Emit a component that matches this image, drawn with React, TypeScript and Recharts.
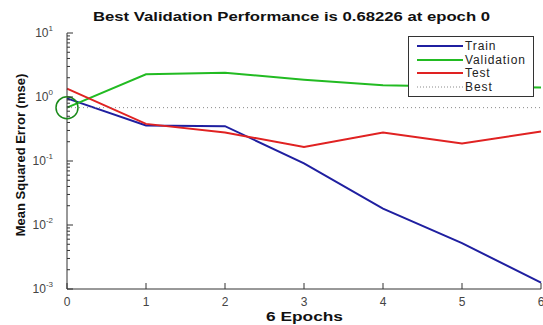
import { Legend, Line, LineChart, ReferenceDot, XAxis, YAxis } from "recharts";

const epochs = [0, 1, 2, 3, 4, 5, 6];
const train = [0.95, 0.36, 0.35, 0.092, 0.018, 0.0052, 0.00126];
const validation = [0.68226, 2.26, 2.4, 1.86, 1.52, 1.45, 1.41];
const test = [1.35, 0.38, 0.278, 0.166, 0.278, 0.187, 0.29];
const bestValue = 0.68226;
const bestEpoch = 0;

const xTicks = [0, 1, 2, 3, 4, 5, 6];
const yDecades = [-3, -2, -1, 0, 1];
const legendOrder = ["train", "validation", "test", "best"];

// major + minor log ticks (1..9 per decade)
const yTicks: number[] = [];
yDecades.forEach((d) => {
  for (let m = 1; m <= 9; m++) {
    if (d === 1 && m > 1) break;
    yTicks.push(Number((m * Math.pow(10, d)).toPrecision(3)));
  }
});

const data = epochs.map((e, i) => ({
  epoch: e,
  train: train[i],
  validation: validation[i],
  test: test[i],
  best: bestValue,
}));

const FONT = "'Liberation Sans', Arial, sans-serif";
const AXIS = "#333";
const TICK_TEXT = "#444";

const COLORS: Record<string, string> = {
  train: "#1f1fa0",
  validation: "#22bb22",
  test: "#e02222",
  best: "#8a8a8a",
};

function YTick(props: any) {
  const { x, y, payload } = props;
  const lg = Math.log10(payload.value);
  const e = Math.round(lg);
  const major = Math.abs(lg - e) < 1e-6;
  return (
    <g>
      <line x1={x} x2={x + (major ? 6 : 3)} y1={y} y2={y} stroke={AXIS} strokeWidth={1} />
      {major && (
        <text x={x - 14} y={y + 4} textAnchor="end" fill={TICK_TEXT} fontSize={12} fontFamily={FONT}>
          10
          <tspan dy={-6} fontSize={8}>
            {e}
          </tspan>
        </text>
      )}
    </g>
  );
}

function XTick(props: any) {
  const { x, y, payload } = props;
  return (
    <g>
      <line x1={x} x2={x} y1={y} y2={y - 6} stroke={AXIS} strokeWidth={1} />
      <text x={x} y={y + 17} textAnchor="middle" fill={TICK_TEXT} fontSize={12} fontFamily={FONT}>
        {payload.value}
      </text>
    </g>
  );
}

function LegendBox(props: any) {
  const items = [...(props.payload || [])].sort(
    (a: any, b: any) => legendOrder.indexOf(a.dataKey) - legendOrder.indexOf(b.dataKey)
  );
  return (
    <div
      style={{
        border: "1px solid #333",
        background: "#fff",
        padding: "2px 0 2px 0",
        fontFamily: FONT,
        fontSize: 12,
        letterSpacing: 0.9,
        color: "#222",
      }}
    >
      {items.map((it: any) => (
        <div key={it.value} style={{ display: "flex", alignItems: "center", height: 13.7 }}>
          <svg width={56} height={8} style={{ marginLeft: 8 }}>
            <line
              x1={0}
              x2={46}
              y1={4}
              y2={4}
              stroke={it.color}
              strokeWidth={it.dataKey === "best" ? 1 : 2}
              strokeDasharray={it.dataKey === "best" ? "1 2" : undefined}
            />
          </svg>
          <span style={{ marginLeft: -8 }}>{it.value}</span>
        </div>
      ))}
    </div>
  );
}

export default function App() {
  return (
    <div style={{ position: "relative", width: 543, height: 325, background: "#fff" }}>
      <style>{"body{margin:0}"}</style>
      <svg width={543} height={28} style={{ position: "absolute", top: 0, left: 0, zIndex: 2 }}>
        <text
          x={93}
          y={21}
          textLength={397}
          lengthAdjust="spacingAndGlyphs"
          fontFamily={FONT}
          fontWeight="bold"
          fontSize={13}
          fill="#111"
        >
          Best Validation Performance is 0.68226 at epoch 0
        </text>
      </svg>
      <LineChart width={543} height={325} data={data} margin={{ top: 33, right: 2, bottom: 0, left: 0 }}>
        <XAxis
          dataKey="epoch"
          type="number"
          domain={[0, 6]}
          ticks={xTicks}
          interval={0}
          tickSize={0}
          tickMargin={0}
          tickLine={false}
          height={36}
          stroke={AXIS}
          tick={<XTick />}
          label={{
            content: (p: any) => (
              <text
                x={p.viewBox.x + p.viewBox.width / 2 - 38}
                y={p.viewBox.y + 32}
                textLength={77}
                lengthAdjust="spacingAndGlyphs"
                fontFamily={FONT}
                fontWeight="bold"
                fontSize={13}
                fill="#111"
              >
                6 Epochs
              </text>
            ),
          }}
        />
        <YAxis
          scale="log"
          domain={[0.001, 10]}
          ticks={yTicks}
          interval={0}
          allowDataOverflow
          width={67}
          tickSize={0}
          tickMargin={0}
          tickLine={false}
          stroke={AXIS}
          tick={<YTick />}
          label={{
            content: (p: any) => {
              const cx = p.viewBox.x + 20;
              const cy = p.viewBox.y + p.viewBox.height / 2 - 6;
              return (
                <text
                  x={cx}
                  y={cy}
                  transform={`rotate(-90 ${cx} ${cy})`}
                  textAnchor="middle"
                  dominantBaseline="central"
                  fontFamily={FONT}
                  fontWeight="bold"
                  fontSize={13}
                  fill="#111"
                >
                  Mean Squared Error  (mse)
                </text>
              );
            },
          }}
        />
        <Legend
          layout="horizontal"
          verticalAlign="middle"
          align="center"
          wrapperStyle={{ top: 36, left: 408, width: 126 }}
          content={<LegendBox />}
        />
        <Line
          dataKey="train"
          name="Train"
          stroke={COLORS.train}
          strokeWidth={2}
          dot={false}
          isAnimationActive={false}
        />
        <Line
          dataKey="validation"
          name="Validation"
          stroke={COLORS.validation}
          strokeWidth={2}
          dot={false}
          isAnimationActive={false}
        />
        <Line
          dataKey="test"
          name="Test"
          stroke={COLORS.test}
          strokeWidth={2}
          dot={false}
          isAnimationActive={false}
        />
        <Line
          dataKey="best"
          name="Best"
          stroke={COLORS.best}
          strokeWidth={1}
          strokeDasharray="1 3"
          dot={false}
          isAnimationActive={false}
        />
        <ReferenceDot
          x={bestEpoch}
          y={bestValue}
          r={11}
          fill="none"
          stroke="#1a8a1a"
          strokeWidth={1.5}
          ifOverflow="visible"
        />
      </LineChart>
    </div>
  );
}
